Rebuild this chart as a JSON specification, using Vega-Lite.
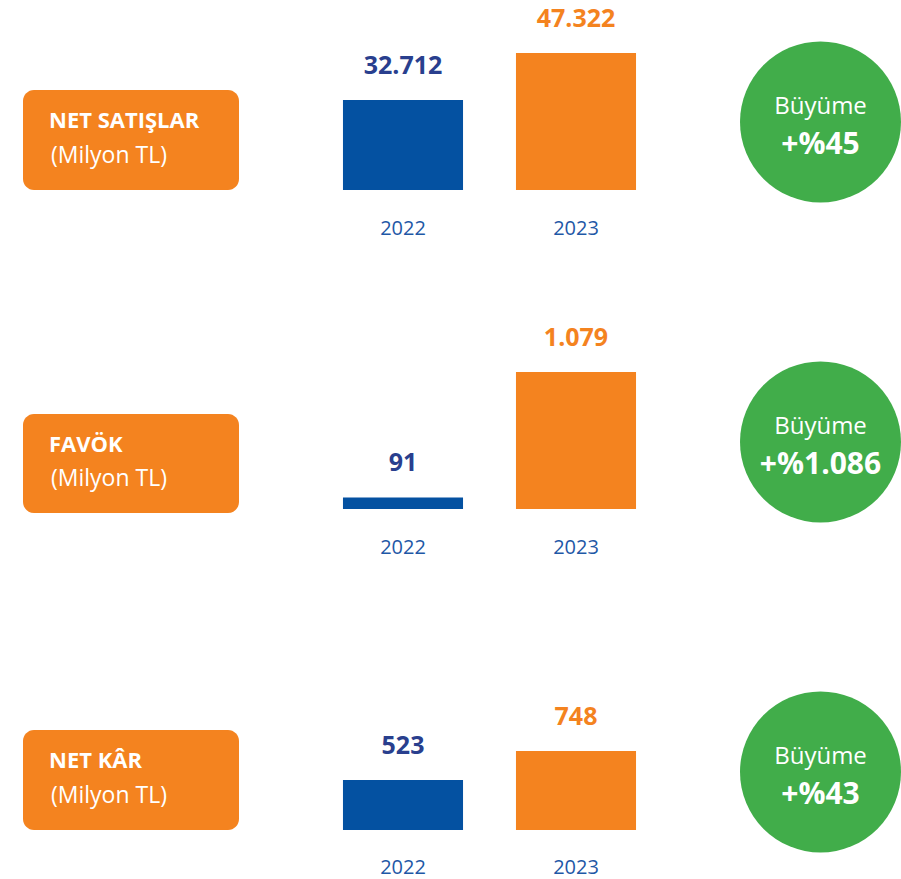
{
  "$schema": "https://vega.github.io/schema/vega-lite/v6.json",
  "background": "white",
  "padding": {"left": 23, "top": 0, "right": 0, "bottom": 2},
  "config": {
    "view": {"stroke": null},
    "font": "Open Sans",
    "locale": {"number": {"decimal": ",", "thousands": ".", "grouping": [3], "currency": ["", ""]}}
  },
  "datasets": {
    "bars": [
      {"metric": "NET SATIŞLAR", "year": "2022", "value": 32712},
      {"metric": "NET SATIŞLAR", "year": "2023", "value": 47322},
      {"metric": "FAVÖK", "year": "2022", "value": 91},
      {"metric": "FAVÖK", "year": "2023", "value": 1079},
      {"metric": "NET KÂR", "year": "2022", "value": 523},
      {"metric": "NET KÂR", "year": "2023", "value": 748}
    ],
    "info": [
      {"metric": "NET SATIŞLAR", "unit": "(Milyon TL)", "growthLabel": "Büyüme", "growth": "+%45"},
      {"metric": "FAVÖK", "unit": "(Milyon TL)", "growthLabel": "Büyüme", "growth": "+%1.086"},
      {"metric": "NET KÂR", "unit": "(Milyon TL)", "growthLabel": "Büyüme", "growth": "+%43"}
    ]
  },
  "columns": 3,
  "align": "each",
  "bounds": "flush",
  "spacing": {"row": 100, "column": 77.5},
  "concat": [
    {
      "width": 216, "height": 190,
      "data": {"name": "info"},
      "transform": [{"filter": "datum.metric === 'NET SATIŞLAR'"}],
      "encoding": {"y": {"field": "metric", "type": "nominal", "axis": null, "scale": {"type": "band", "paddingInner": 0, "paddingOuter": 0.45, "align": 1}}},
      "layer": [
        {"mark": {"type": "rect", "color": "#F4831F", "cornerRadius": 11}},
        {"mark": {"type": "text", "align": "left", "baseline": "alphabetic", "dx": -82, "dy": -12, "fontSize": 22, "fontWeight": "bold", "color": "white"}, "encoding": {"text": {"field": "metric"}}},
        {"mark": {"type": "text", "align": "left", "baseline": "alphabetic", "dx": -80, "dy": 22.5, "fontSize": 23, "color": "white"}, "encoding": {"text": {"field": "unit"}}}
      ]
    },
    {
      "width": 346, "height": 190,
      "data": {"name": "bars"},
      "transform": [{"filter": "datum.metric === 'NET SATIŞLAR'"}],
      "encoding": {
        "x": {"field": "year", "type": "nominal", "title": null, "scale": {"paddingInner": 0.306, "paddingOuter": 0.153},
              "axis": {"domain": false, "ticks": false, "tickSize": 0, "grid": false, "labelAngle": 0, "labelFontSize": 20, "labelColor": "#1F58A6", "labelBaseline": "alphabetic", "labelPadding": 44}},
        "y": {"field": "value", "type": "quantitative", "axis": null, "scale": {"domain": [4736, 63797], "zero": false, "nice": false, "clamp": true}}
      },
      "layer": [
        {"mark": {"type": "bar"}, "encoding": {"color": {"field": "year", "type": "nominal", "legend": null, "scale": {"domain": ["2022", "2023"], "range": ["#0451A1", "#F4831F"]}}}},
        {"mark": {"type": "text", "baseline": "alphabetic", "dy": -26, "fontSize": 25, "fontWeight": "bold"}, "encoding": {"text": {"field": "value", "type": "quantitative", "format": ",d"}, "color": {"field": "year", "type": "nominal", "legend": null, "scale": {"domain": ["2022", "2023"], "range": ["#293F8E", "#F4831F"]}}}}
      ],
      "resolve": {"scale": {"color": "independent"}}
    },
    {
      "width": 161, "height": 190,
      "data": {"name": "info"},
      "transform": [{"filter": "datum.metric === 'NET SATIŞLAR'"}],
      "encoding": {"y": {"field": "metric", "type": "nominal", "axis": null, "scale": {"type": "point", "align": 0.642}}},
      "layer": [
        {"mark": {"type": "point", "shape": "circle", "filled": true, "size": 25921, "color": "#41AD4A", "opacity": 1, "strokeWidth": 0}},
        {"mark": {"type": "text", "baseline": "alphabetic", "dy": -8, "fontSize": 24, "color": "white"}, "encoding": {"text": {"field": "growthLabel"}}},
        {"mark": {"type": "text", "baseline": "alphabetic", "dy": 32, "fontSize": 30, "fontWeight": "bold", "color": "white"}, "encoding": {"text": {"field": "growth"}}}
      ]
    },
    {
      "width": 216, "height": 223,
      "data": {"name": "info"},
      "transform": [{"filter": "datum.metric === 'FAVÖK'"}],
      "encoding": {"y": {"field": "metric", "type": "nominal", "axis": null, "scale": {"type": "band", "paddingInner": 0, "paddingOuter": 0.6263, "align": 1}}},
      "layer": [
        {"mark": {"type": "rect", "color": "#F4831F", "cornerRadius": 11}},
        {"mark": {"type": "text", "align": "left", "baseline": "alphabetic", "dx": -82, "dy": -12, "fontSize": 22, "fontWeight": "bold", "color": "white"}, "encoding": {"text": {"field": "metric"}}},
        {"mark": {"type": "text", "align": "left", "baseline": "alphabetic", "dx": -80, "dy": 22.5, "fontSize": 23, "color": "white"}, "encoding": {"text": {"field": "unit"}}}
      ]
    },
    {
      "width": 346, "height": 219,
      "data": {"name": "bars"},
      "transform": [{"filter": "datum.metric === 'FAVÖK'"}],
      "encoding": {
        "x": {"field": "year", "type": "nominal", "title": null, "scale": {"paddingInner": 0.306, "paddingOuter": 0.153},
              "axis": {"domain": false, "ticks": false, "tickSize": 0, "grid": false, "labelAngle": 0, "labelFontSize": 20, "labelColor": "#1F58A6", "labelBaseline": "alphabetic", "labelPadding": 44}},
        "y": {"field": "value", "type": "quantitative", "axis": null, "scale": {"domain": [0, 1725], "zero": false, "nice": false}}
      },
      "layer": [
        {"mark": {"type": "bar"}, "encoding": {"color": {"field": "year", "type": "nominal", "legend": null, "scale": {"domain": ["2022", "2023"], "range": ["#0451A1", "#F4831F"]}}}},
        {"mark": {"type": "text", "baseline": "alphabetic", "dy": -26, "fontSize": 25, "fontWeight": "bold"}, "encoding": {"text": {"field": "value", "type": "quantitative", "format": ",d"}, "color": {"field": "year", "type": "nominal", "legend": null, "scale": {"domain": ["2022", "2023"], "range": ["#293F8E", "#F4831F"]}}}}
      ],
      "resolve": {"scale": {"color": "independent"}}
    },
    {
      "width": 161, "height": 219,
      "data": {"name": "info"},
      "transform": [{"filter": "datum.metric === 'FAVÖK'"}],
      "encoding": {"y": {"field": "metric", "type": "nominal", "axis": null, "scale": {"type": "point", "align": 0.694}}},
      "layer": [
        {"mark": {"type": "point", "shape": "circle", "filled": true, "size": 25921, "color": "#41AD4A", "opacity": 1, "strokeWidth": 0}},
        {"mark": {"type": "text", "baseline": "alphabetic", "dy": -8, "fontSize": 24, "color": "white"}, "encoding": {"text": {"field": "growthLabel"}}},
        {"mark": {"type": "text", "baseline": "alphabetic", "dy": 32, "fontSize": 30, "fontWeight": "bold", "color": "white"}, "encoding": {"text": {"field": "growth"}}}
      ]
    },
    {
      "width": 216, "height": 217,
      "data": {"name": "info"},
      "transform": [{"filter": "datum.metric === 'NET KÂR'"}],
      "encoding": {"y": {"field": "metric", "type": "nominal", "axis": null, "scale": {"type": "band", "paddingInner": 0, "paddingOuter": 0.585, "align": 1}}},
      "layer": [
        {"mark": {"type": "rect", "color": "#F4831F", "cornerRadius": 11}},
        {"mark": {"type": "text", "align": "left", "baseline": "alphabetic", "dx": -82, "dy": -12, "fontSize": 22, "fontWeight": "bold", "color": "white"}, "encoding": {"text": {"field": "metric"}}},
        {"mark": {"type": "text", "align": "left", "baseline": "alphabetic", "dx": -80, "dy": 22.5, "fontSize": 23, "color": "white"}, "encoding": {"text": {"field": "unit"}}}
      ]
    },
    {
      "width": 346, "height": 217,
      "data": {"name": "bars"},
      "transform": [{"filter": "datum.metric === 'NET KÂR'"}],
      "encoding": {
        "x": {"field": "year", "type": "nominal", "title": null, "scale": {"paddingInner": 0.306, "paddingOuter": 0.153},
              "axis": {"domain": false, "ticks": false, "tickSize": 0, "grid": false, "labelAngle": 0, "labelFontSize": 20, "labelColor": "#1F58A6", "labelBaseline": "alphabetic", "labelPadding": 43}},
        "y": {"field": "value", "type": "quantitative", "axis": null, "scale": {"domain": [135.1, 1818.7], "zero": false, "nice": false, "clamp": true}}
      },
      "layer": [
        {"mark": {"type": "bar"}, "encoding": {"color": {"field": "year", "type": "nominal", "legend": null, "scale": {"domain": ["2022", "2023"], "range": ["#0451A1", "#F4831F"]}}}},
        {"mark": {"type": "text", "baseline": "alphabetic", "dy": -26, "fontSize": 25, "fontWeight": "bold"}, "encoding": {"text": {"field": "value", "type": "quantitative", "format": ",d"}, "color": {"field": "year", "type": "nominal", "legend": null, "scale": {"domain": ["2022", "2023"], "range": ["#293F8E", "#F4831F"]}}}}
      ],
      "resolve": {"scale": {"color": "independent"}}
    },
    {
      "width": 161, "height": 217,
      "data": {"name": "info"},
      "transform": [{"filter": "datum.metric === 'NET KÂR'"}],
      "encoding": {"y": {"field": "metric", "type": "nominal", "axis": null, "scale": {"type": "point", "align": 0.7327}}},
      "layer": [
        {"mark": {"type": "point", "shape": "circle", "filled": true, "size": 25921, "color": "#41AD4A", "opacity": 1, "strokeWidth": 0}},
        {"mark": {"type": "text", "baseline": "alphabetic", "dy": -8, "fontSize": 24, "color": "white"}, "encoding": {"text": {"field": "growthLabel"}}},
        {"mark": {"type": "text", "baseline": "alphabetic", "dy": 32, "fontSize": 30, "fontWeight": "bold", "color": "white"}, "encoding": {"text": {"field": "growth"}}}
      ]
    }
  ]
}
